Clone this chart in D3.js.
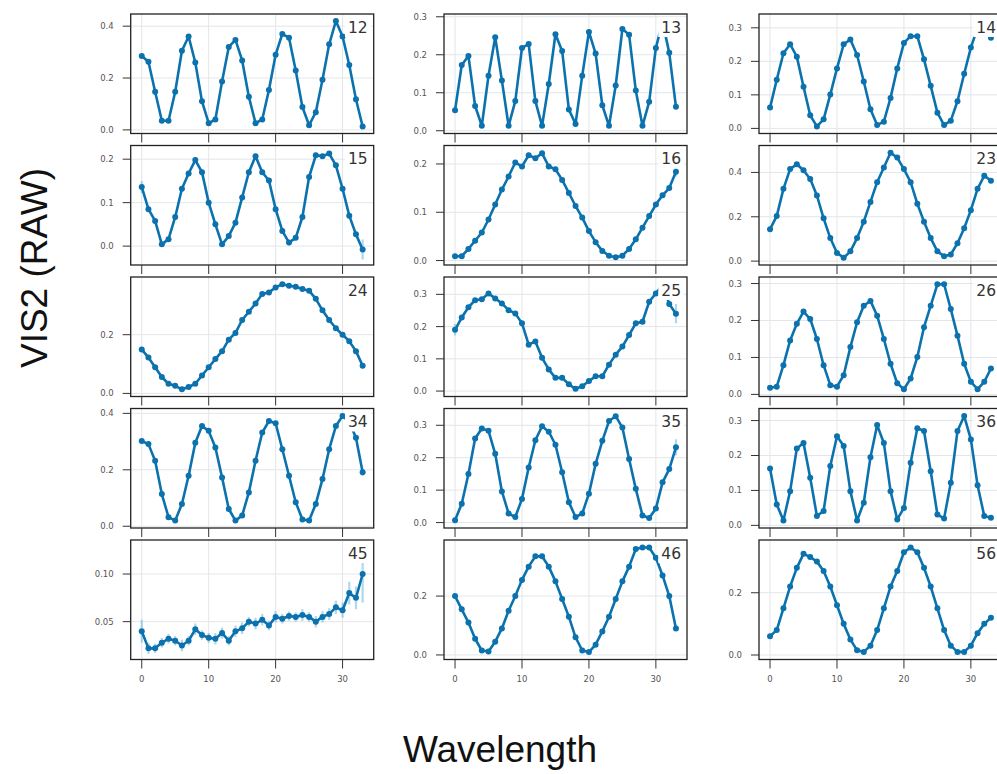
<!DOCTYPE html>
<html><head><meta charset="utf-8">
<script src="https://cdn.jsdelivr.net/npm/d3@7/dist/d3.min.js"></script>
<style>html,body{margin:0;padding:0;background:#fff;overflow:hidden}</style>
</head><body>
<svg id="chart" width="997" height="774"></svg>
<script>
const wavelength = [0,1,2,3,4,5,6,7,8,9,10,11,12,13,14,15,16,17,18,19,20,21,22,23,24,25,26,27,28,29,30,31,32,33];
const panelLabels = ["12","13","14","15","16","23","24","25","26","34","35","36","45","46","56"];
const vis12 = [0.285,0.263,0.147,0.035,0.035,0.147,0.305,0.36,0.26,0.11,0.026,0.04,0.187,0.32,0.347,0.268,0.128,0.026,0.04,0.154,0.29,0.37,0.355,0.229,0.088,0.018,0.068,0.193,0.33,0.42,0.36,0.25,0.118,0.013];
const vis13 = [0.054,0.173,0.197,0.065,0.013,0.145,0.246,0.132,0.013,0.078,0.218,0.228,0.078,0.013,0.123,0.254,0.21,0.056,0.018,0.145,0.26,0.203,0.067,0.013,0.119,0.268,0.253,0.106,0.013,0.076,0.218,0.287,0.205,0.063];
const vis14 = [0.062,0.145,0.224,0.251,0.214,0.124,0.039,0.006,0.027,0.101,0.179,0.251,0.265,0.219,0.14,0.057,0.01,0.02,0.091,0.179,0.255,0.275,0.275,0.206,0.127,0.047,0.01,0.023,0.081,0.163,0.241,0.3,0.32,0.27];
const vis15 = [0.136,0.085,0.058,0.004,0.016,0.067,0.132,0.167,0.198,0.17,0.1,0.05,0.004,0.023,0.054,0.112,0.17,0.207,0.17,0.151,0.085,0.035,0.008,0.019,0.067,0.159,0.209,0.207,0.213,0.186,0.132,0.07,0.027,-0.008];
const vis16 = [0.009,0.009,0.024,0.041,0.058,0.085,0.116,0.147,0.174,0.203,0.195,0.218,0.212,0.222,0.195,0.189,0.167,0.14,0.113,0.089,0.061,0.038,0.02,0.01,0.007,0.01,0.024,0.044,0.068,0.092,0.116,0.135,0.15,0.184];
const vis23 = [0.144,0.203,0.326,0.415,0.437,0.41,0.37,0.296,0.193,0.104,0.037,0.015,0.044,0.104,0.178,0.267,0.356,0.422,0.489,0.467,0.415,0.356,0.259,0.178,0.104,0.044,0.022,0.03,0.081,0.148,0.23,0.326,0.385,0.363];
const vis24 = [0.15,0.122,0.089,0.056,0.033,0.026,0.014,0.022,0.033,0.061,0.089,0.117,0.144,0.183,0.206,0.25,0.278,0.306,0.339,0.344,0.361,0.372,0.367,0.363,0.356,0.35,0.322,0.283,0.25,0.222,0.2,0.178,0.144,0.094];
const vis25 = [0.19,0.228,0.26,0.282,0.285,0.303,0.287,0.272,0.251,0.241,0.21,0.144,0.154,0.103,0.067,0.041,0.041,0.021,0.007,0.015,0.031,0.046,0.046,0.082,0.113,0.138,0.174,0.21,0.215,0.277,0.303,0.33,0.27,0.24];
const vis26 = [0.018,0.021,0.079,0.146,0.191,0.224,0.204,0.15,0.079,0.025,0.021,0.052,0.128,0.195,0.24,0.253,0.213,0.15,0.083,0.03,0.014,0.043,0.101,0.182,0.24,0.298,0.298,0.231,0.159,0.083,0.034,0.014,0.034,0.07];
const vis34 = [0.302,0.291,0.232,0.114,0.032,0.02,0.079,0.179,0.296,0.355,0.338,0.279,0.173,0.061,0.02,0.038,0.12,0.232,0.332,0.373,0.365,0.273,0.179,0.085,0.024,0.02,0.079,0.167,0.273,0.355,0.391,0.37,0.314,0.191];
const vis35 = [0.007,0.058,0.15,0.259,0.29,0.283,0.212,0.096,0.028,0.017,0.073,0.17,0.254,0.297,0.28,0.24,0.155,0.063,0.017,0.028,0.089,0.181,0.252,0.313,0.328,0.293,0.196,0.104,0.022,0.014,0.043,0.124,0.165,0.232];
const vis36 = [0.163,0.06,0.014,0.098,0.22,0.236,0.136,0.027,0.041,0.17,0.255,0.227,0.098,0.014,0.065,0.195,0.287,0.236,0.098,0.017,0.05,0.179,0.278,0.27,0.155,0.031,0.02,0.122,0.27,0.313,0.246,0.115,0.027,0.022];
const vis45 = [0.04,0.022,0.022,0.028,0.032,0.03,0.025,0.03,0.042,0.036,0.033,0.032,0.038,0.03,0.04,0.043,0.05,0.048,0.052,0.046,0.055,0.053,0.056,0.055,0.057,0.055,0.05,0.055,0.058,0.065,0.062,0.08,0.075,0.1];
const vis46 = [0.2,0.155,0.11,0.055,0.015,0.012,0.045,0.09,0.15,0.2,0.255,0.3,0.335,0.335,0.3,0.25,0.19,0.13,0.06,0.015,0.01,0.035,0.08,0.13,0.19,0.25,0.3,0.36,0.365,0.365,0.33,0.27,0.2,0.09];
const vis56 = [0.06,0.08,0.15,0.22,0.28,0.325,0.315,0.3,0.27,0.22,0.16,0.1,0.05,0.015,0.01,0.03,0.08,0.15,0.22,0.27,0.33,0.345,0.33,0.28,0.22,0.15,0.08,0.03,0.01,0.01,0.03,0.07,0.1,0.12];
const err45 = [0.012,0.006,0.005,0.005,0.005,0.005,0.006,0.005,0.006,0.005,0.005,0.006,0.006,0.005,0.006,0.006,0.005,0.006,0.006,0.005,0.006,0.005,0.005,0.005,0.006,0.005,0.006,0.006,0.006,0.007,0.008,0.012,0.012,0.03];
const typicalErr = [0.006,0.006,0.005,0.006,0.005,0.008,0.006,0.007,0.005,0.007,0.007,0.006,0.006,0.007,0.007];
const largeErr = [["15",0,0.014],["15",33,0.023],["25",0,0.018],["25",33,0.03],["35",33,0.025],["34",33,0.012],["16",33,0.01]];
const yTickStep = [0.2,0.1,0.1,0.1,0.1,0.2,0.2,0.1,0.1,0.2,0.1,0.1,0.05,0.2,0.2];
const xTicks = [0,10,20,30];

const series = [vis12,vis13,vis14,vis15,vis16,vis23,vis24,vis25,vis26,vis34,vis35,vis36,vis45,vis46,vis56];

const svg = d3.select("#chart");
svg.append("rect").attr("width",997).attr("height",774).attr("fill","#fff");

const colLeft = [130.7, 444, 759];
const rowTop = [14, 145.5, 277, 408.5, 540];
const W = 243, H = 119.5;
const blue = "#0b72ae";

panelLabels.forEach((lab, i) => {
  const col = i % 3, row = Math.floor(i / 3);
  const vals = series[i];
  const errs = vals.map((v, j) => {
    if (lab === "45") return err45[j];
    const f = largeErr.find(e => e[0] === lab && e[1] === j);
    return f ? f[2] : typicalErr[i];
  });
  const data = wavelength.map((x, j) => ({x, y: vals[j], e: errs[j]}));
  const lo = d3.min(data, d => d.y - d.e), hi = d3.max(data, d => d.y + d.e);
  const pad = (hi - lo) * 0.05;
  const y = d3.scaleLinear().domain([lo - pad, hi + pad]).range([H, 0]);
  const x = d3.scaleLinear().domain([-1.65, 34.65]).range([0, W]);

  const g = svg.append("g").attr("transform", `translate(${colLeft[col]},${rowTop[row]})`);
  const clipId = "clip" + i;
  g.append("clipPath").attr("id", clipId).append("rect").attr("width", W).attr("height", H);

  const step = yTickStep[i];
  const [d0, d1] = y.domain();
  const yt = d3.range(Math.ceil(d0 / step - 1e-9), Math.floor(d1 / step + 1e-9) + 1).map(k => +(k * step).toFixed(4));
  const fmt = d3.format("." + d3.precisionFixed(step) + "f");

  const grid = g.append("g");
  grid.selectAll("line.gx").data(xTicks).join("line")
    .attr("x1", d => x(d)).attr("x2", d => x(d)).attr("y1", 0).attr("y2", H)
    .attr("stroke", "#e2e6ea").attr("stroke-width", 1);
  grid.selectAll("line.gy").data(yt).join("line")
    .attr("y1", d => y(d)).attr("y2", d => y(d)).attr("x1", 0).attr("x2", W)
    .attr("stroke", "#e2e6ea").attr("stroke-width", 1);

  const plot = g.append("g").attr("clip-path", `url(#${clipId})`);
  plot.selectAll("line.err").data(data).join("line")
    .attr("x1", d => x(d.x)).attr("x2", d => x(d.x))
    .attr("y1", d => y(d.y - d.e)).attr("y2", d => y(d.y + d.e))
    .attr("stroke", "#4aa8d8").attr("stroke-opacity", 0.45).attr("stroke-width", 2.2);
  plot.append("path").datum(data)
    .attr("d", d3.line().x(d => x(d.x)).y(d => y(d.y)))
    .attr("fill", "none").attr("stroke", blue).attr("stroke-width", 2.6).attr("stroke-linejoin", "round");
  plot.selectAll("circle").data(data).join("circle")
    .attr("cx", d => x(d.x)).attr("cy", d => y(d.y)).attr("r", 3).attr("fill", blue);

  const lbl = g.append("g").attr("clip-path", `url(#${clipId})`);
  const t = lbl.append("text").attr("x", W - 6).attr("y", 18.5).attr("text-anchor", "end")
    .attr("font-family", "DejaVu Sans, sans-serif").attr("font-size", 15.5).attr("fill", "#333").text(lab);
  const bb = t.node().getBBox();
  lbl.insert("rect", "text").attr("x", bb.x - 3).attr("y", 3).attr("width", bb.width + 6).attr("height", 20)
    .attr("fill", "#fff");

  g.append("rect").attr("width", W).attr("height", H).attr("fill", "none").attr("stroke", "#222").attr("stroke-width", 1.3);

  const ya = g.append("g");
  ya.selectAll("line").data(yt).join("line")
    .attr("x1", -8).attr("x2", 0).attr("y1", d => y(d)).attr("y2", d => y(d))
    .attr("stroke", "#333").attr("stroke-width", 1);
  ya.selectAll("text").data(yt).join("text")
    .attr("x", -17).attr("y", d => y(d)).attr("dy", "0.35em").attr("text-anchor", "end")
    .attr("font-family", "DejaVu Sans, sans-serif").attr("font-size", 8.5).attr("fill", "#555")
    .text(d => fmt(d));

  const xa = g.append("g");
  xa.selectAll("line").data(xTicks).join("line")
    .attr("x1", d => x(d)).attr("x2", d => x(d)).attr("y1", H).attr("y2", H + 9)
    .attr("stroke", "#333").attr("stroke-width", 1);
  if (row === 4) {
    xa.selectAll("text").data(xTicks).join("text")
      .attr("x", d => x(d)).attr("y", H + 22).attr("text-anchor", "middle")
      .attr("font-family", "DejaVu Sans, sans-serif").attr("font-size", 8.5).attr("fill", "#555")
      .text(d => d);
  }
});

svg.append("text").attr("transform", "translate(47,268) rotate(-90)").attr("text-anchor", "middle")
  .attr("font-family", "Liberation Sans, Arial, sans-serif").attr("font-size", 37).attr("fill", "#111")
  .text("VIS2 (RAW)");
svg.append("text").attr("x", 500).attr("y", 762).attr("text-anchor", "middle")
  .attr("font-family", "Liberation Sans, Arial, sans-serif").attr("font-size", 37).attr("fill", "#111")
  .text("Wavelength");
</script>
</body></html>
